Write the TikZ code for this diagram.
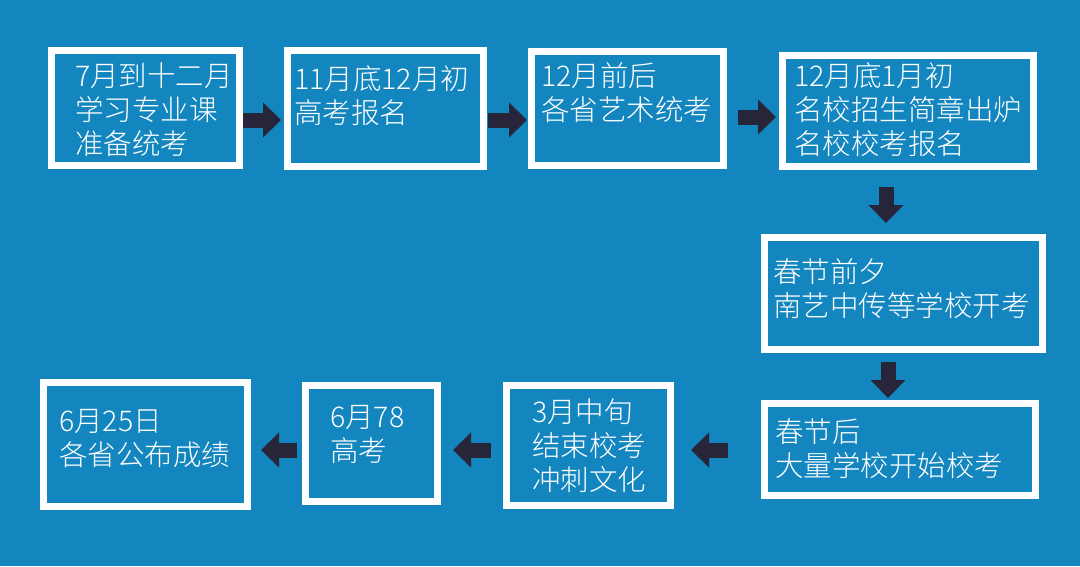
\documentclass[tikz,border=0pt]{standalone}
\usepackage{fontspec}
\newfontfamily\cjk{Noto Sans CJK SC}[UprightFont=* Light]
\usetikzlibrary{arrows.meta, positioning}
\definecolor{bgblue}{RGB}{20,134,191}
\definecolor{arrownavy}{RGB}{38,37,58}

\begin{document}
\begin{tikzpicture}[x=1pt, y=-1pt, font=\cjk\fontsize{28.5}{34}\selectfont]
        % Setup the style for the boxes, texts and arrows
        \tikzset{box style/.style={draw=white,
                                   line width=7pt,
                                   inner sep=0pt}}
        \tikzset{text style/.style={text=white,
                                    anchor=north west,
                                    inner sep=0pt,
                                    align=left}}
        \tikzset{arrow style/.style={draw=arrownavy,
                                     line width=15pt,
                                     -{Triangle[length=18pt, width=34pt]}}}

        % Background
        \fill[bgblue] (0,0) rectangle (1080,566);

        % Draw the boxes
        \node[box style, minimum width=188pt, minimum height=115pt] at (145.5,108) (b1) {};
        \node[box style, minimum width=196pt, minimum height=116pt] at (385.5,108.5) (b2) {};
        \node[box style, minimum width=192pt, minimum height=114pt] at (627.5,108.5) (b3) {};
        \node[box style, minimum width=251pt, minimum height=111pt] at (908,111) (b4) {};
        \node[box style, minimum width=278pt, minimum height=112pt] at (903.5,293.5) (b5) {};
        \node[box style, minimum width=271pt, minimum height=92pt] at (900,449.5) (b6) {};
        \node[box style, minimum width=164pt, minimum height=120pt] at (588.5,445.5) (b7) {};
        \node[box style, minimum width=132pt, minimum height=116pt] at (371.5,443.5) (b8) {};
        \node[box style, minimum width=204pt, minimum height=124pt] at (145.5,444.5) (b9) {};

        % Texts of the boxes
        \node[text style] at (75,63) (t1) {7月到十二月\\学习专业课\\准备统考};
        \node[text style] at (294,65) (t2) {11月底12月初\\高考报名};
        \node[text style] at (541,62) (t3) {12月前后\\各省艺术统考};
        \node[text style] at (794,62) (t4) {12月底1月初\\名校招生简章出炉\\名校校考报名};
        \node[text style] at (773,258) (t5) {春节前夕\\南艺中传等学校开考};
        \node[text style] at (775,418) (t6) {春节后\\大量学校开始校考};
        \node[text style] at (532,398) (t7) {3月中旬\\结束校考\\冲刺文化};
        \node[text style] at (330,405) (t8) {6月78\\高考};
        \node[text style] at (59,409) (t9) {6月25日\\各省公布成绩};

        % Connect the boxes with arrows
        \path[every edge/.style={arrow style}]
            (b1.east |- 0,120)     edge[shorten >=3pt]                 (b2.west |- 0,120)
            (b2.east |- 0,120)     edge[shorten <=1pt, shorten >=1pt]  (b3.west |- 0,120)
            (b3.east |- 0,117)     edge[shorten <=11pt, shorten >=3pt] (b4.west |- 0,117)
            (b4.south -| 886,0)    edge[shorten <=17pt, shorten >=11pt] (b5.north -| 886,0)
            (b5.south -| 888,0)    edge[shorten <=9pt, shorten >=2pt]  (b6.north -| 888,0)
            (b6.west |- 0,450)     edge[shorten <=33pt, shorten >=17pt] (b7.east |- 0,450)
            (b7.west |- 0,450)     edge[shorten <=12pt, shorten >=12pt] (b8.east |- 0,450)
            (b8.west |- 0,450)     edge[shorten <=5pt, shorten >=10pt] (b9.east |- 0,450);
\end{tikzpicture}
\end{document}
